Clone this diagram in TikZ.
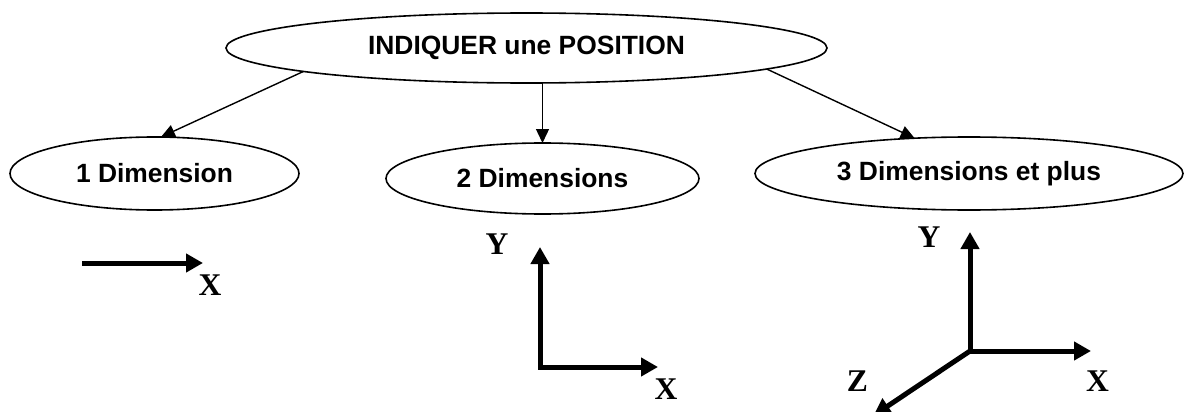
\documentclass[tikz,border=0pt]{standalone}
\usepackage{fontspec}
\setmainfont{Liberation Sans}
\newfontfamily\axisfont{Liberation Serif}
\usetikzlibrary{arrows.meta,shapes.geometric}

\begin{document}
\begin{tikzpicture}[x=0.5pt,y=-0.5pt,
  oval/.style={draw,ellipse,line width=0.8pt,inner sep=0pt,outer sep=0pt,font=\bfseries\fontsize{13.2}{15}\selectfont},
  link/.style={-{Triangle[length=7pt,width=6.5pt]},line width=0.7pt},
  axis/.style={-{Triangle[length=8.5pt,width=9pt]},line width=2.5pt},
  axis2/.style={{Triangle[length=8.5pt,width=9pt]}-{Triangle[length=8.5pt,width=9pt]},line width=2.5pt},
  lbl/.style={inner sep=0pt,font=\axisfont\bfseries\fontsize{15.8}{17}\selectfont}]
\clip (0,0) rectangle (1185,412);
\node[oval,minimum width=300.5pt,minimum height=35pt] (main) at (526.5,48) {INDIQUER une POSITION};
\node[oval,minimum width=144.5pt,minimum height=36.5pt] (d1) at (154.5,173.5) {1 Dimension};
\node[oval,minimum width=156.5pt,minimum height=35.5pt] (d2) at (542.5,178.5) {2 Dimensions};
\node[oval,minimum width=214pt,minimum height=36.5pt] (d3) at (969,173.5) {3 Dimensions et plus};
\draw[link] (main.186) -- (d1.80);
\draw[link] (main.south -| d2.north) -- (d2.north);
\draw[link] (main.355) -- (d3.147);
% 1 dimension
\coordinate (o1) at (82,263);
\coordinate (x1) at (203,263);
\draw[axis] (o1) -- (x1);
\node[lbl] (lx1) at (210,285) {X};
% 2 dimensions
\coordinate (o2) at (540,367);
\coordinate (y2) at (540,247);
\coordinate (x2) at (658,367);
\draw[axis2] (y2) -- (o2) -- (x2);
\node[lbl] (ly2) at (497,244) {Y};
\node[lbl] (lx2) at (666,389) {X};
% 3 dimensions
\coordinate (o3) at (970,351);
\coordinate (y3) at (970,232);
\coordinate (x3) at (1091,351);
\coordinate (z3) at (873.6,415.5);
\foreach \e in {y3,x3,z3} \draw[axis] (o3) -- (\e);
\node[lbl] (ly3) at (929,237) {Y};
\node[lbl] (lx3) at (1097.5,381) {X};
\node[lbl] (lz3) at (857.5,381) {Z};
\end{tikzpicture}
\end{document}
